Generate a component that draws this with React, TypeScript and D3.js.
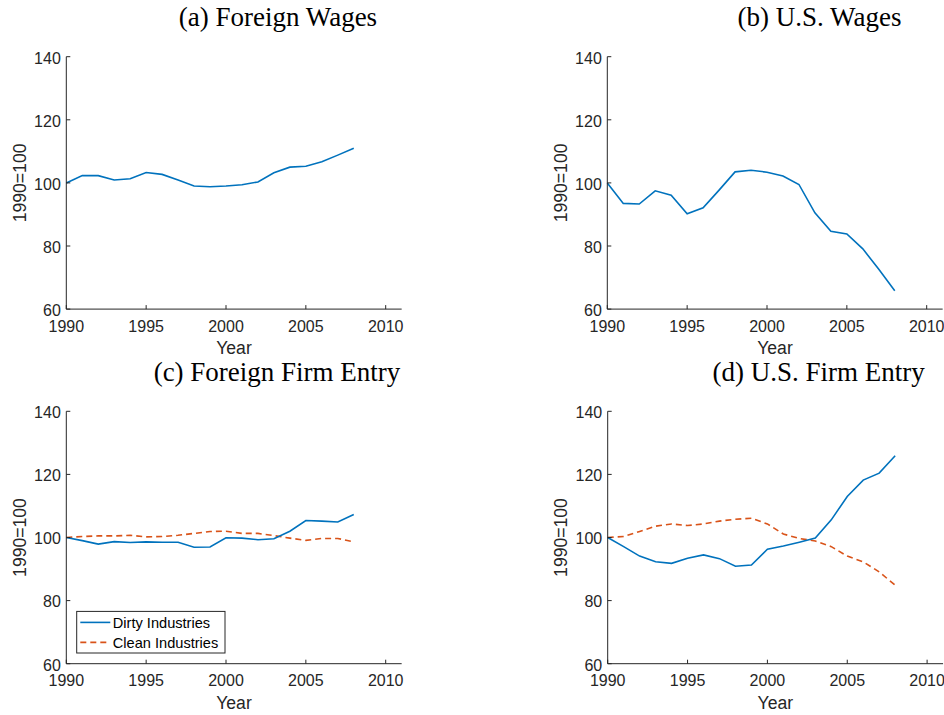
import * as d3 from "d3";

const years = d3.range(1990, 2009);
const xTicks = [1990, 1995, 2000, 2005, 2010];
const yTicks = [60, 80, 100, 120, 140];

const foreignWages = [100, 102.3, 102.3, 100.9, 101.3, 103.3, 102.7, 100.9, 99.0, 98.8, 99.0, 99.4, 100.3, 103.2, 105.0, 105.3, 106.7, 108.8, 111.0];
const usWages = [100, 93.5, 93.3, 97.5, 96.1, 90.2, 92.1, 97.7, 103.5, 104.0, 103.4, 102.2, 99.5, 90.5, 84.7, 83.8, 79.1, 72.6, 65.8];
const foreignDirty = [100, 99.0, 97.9, 98.7, 98.4, 98.6, 98.5, 98.5, 96.9, 97.0, 99.9, 99.8, 99.3, 99.6, 102.0, 105.4, 105.2, 104.9, 107.3];
const foreignClean = [100, 100.3, 100.5, 100.5, 100.7, 100.2, 100.3, 100.7, 101.3, 101.9, 102.0, 101.3, 101.3, 100.6, 99.8, 99.1, 99.7, 99.7, 98.6];
const usDirty = [100, 97.1, 94.1, 92.3, 91.8, 93.4, 94.5, 93.3, 90.9, 91.3, 96.3, 97.3, 98.5, 99.8, 105.6, 113.0, 118.2, 120.4, 125.9];
const usClean = [100, 100.3, 101.9, 103.6, 104.3, 103.8, 104.3, 105.2, 105.8, 106.1, 104.3, 101.1, 99.7, 98.9, 97.1, 94.1, 92.3, 89.1, 84.9];

const BLUE = "#0072BD";
const ORANGE = "#D95319";
const AXIS = "#262626";

const panels = [
  { title: "(a) Foreign Wages", titleX: 278, titleY: 26, x0: 66.3, y0: 56.7, series: [{ values: foreignWages, color: BLUE, dash: null }] },
  { title: "(b) U.S. Wages", titleX: 819.5, titleY: 26, x0: 607.3, y0: 56.7, series: [{ values: usWages, color: BLUE, dash: null }] },
  {
    title: "(c) Foreign Firm Entry", titleX: 277, titleY: 381, x0: 66.3, y0: 411.3, legend: true,
    series: [
      { values: foreignClean, color: ORANGE, dash: "6,4" },
      { values: foreignDirty, color: BLUE, dash: null },
    ],
  },
  {
    title: "(d) U.S. Firm Entry", titleX: 818.7, titleY: 381, x0: 607.7, y0: 411.3,
    series: [
      { values: usClean, color: ORANGE, dash: "6,4" },
      { values: usDirty, color: BLUE, dash: null },
    ],
  },
];

const legendItems = [
  { label: "Dirty Industries", color: BLUE, dash: null },
  { label: "Clean Industries", color: ORANGE, dash: "6,4" },
];

const PX_PER_YEAR = 15.97;
const PLOT_H = 252.4;
const SANS = "Liberation Sans, Arial, Helvetica, sans-serif";

function Panel({ p }) {
  const x = d3.scaleLinear().domain([1990, 2011]).range([p.x0, p.x0 + 21 * PX_PER_YEAR]);
  const y = d3.scaleLinear().domain([60, 140]).range([p.y0 + PLOT_H, p.y0]);
  const line = d3
    .line<number>()
    .x((_, i) => x(years[i]))
    .y((d) => y(d));
  const bottom = y(60);
  const left = x(1990);

  return (
    <g>
      <text x={p.titleX} y={p.titleY} textAnchor="middle" fontFamily="Liberation Serif, Times New Roman, serif" fontSize={27} fill="#000">
        {p.title}
      </text>
      {p.series.map((s, i) => (
        <path key={i} d={line(s.values)} fill="none" stroke={s.color} strokeWidth={1.6} strokeDasharray={s.dash || undefined} />
      ))}
      <line x1={left} x2={x(2011)} y1={bottom} y2={bottom} stroke={AXIS} strokeWidth={1} />
      <line x1={left} x2={left} y1={bottom} y2={y(140)} stroke={AXIS} strokeWidth={1} />
      {xTicks.map((t) => (
        <g key={t}>
          <line x1={x(t)} x2={x(t)} y1={bottom} y2={bottom - 4} stroke={AXIS} />
          <text x={x(t)} y={bottom + 22.7} textAnchor="middle" fontFamily={SANS} fontSize={16} fill={AXIS}>
            {t}
          </text>
        </g>
      ))}
      {yTicks.map((t) => (
        <g key={t}>
          <line x1={left} x2={left + 4} y1={y(t)} y2={y(t)} stroke={AXIS} />
          <text x={left - 5.5} y={y(t) + 6.8} textAnchor="end" fontFamily={SANS} fontSize={16} fill={AXIS}>
            {t}
          </text>
        </g>
      ))}
      <text x={(left + x(2011)) / 2} y={bottom + 45} textAnchor="middle" fontFamily={SANS} fontSize={17.6} fill={AXIS}>
        Year
      </text>
      <text
        transform={`translate(${left - 40.4},${(bottom + y(140)) / 2}) rotate(-90)`}
        textAnchor="middle"
        fontFamily={SANS}
        fontSize={17.6}
        fill={AXIS}
      >
        1990=100
      </text>
      {p.legend && (
        <g>
          <rect x={left + 10.4} y={bottom - 52.3} width={148.3} height={41.6} fill="#fff" stroke={AXIS} strokeWidth={1} />
          {legendItems.map((it, i) => {
            const cy = bottom - 41.3 + i * 20;
            return (
              <g key={it.label}>
                <line x1={left + 14} x2={left + 44} y1={cy} y2={cy} stroke={it.color} strokeWidth={1.6} strokeDasharray={it.dash || undefined} />
                <text x={left + 46.5} y={cy + 5.2} fontFamily={SANS} fontSize={14.6} fill="#000">
                  {it.label}
                </text>
              </g>
            );
          })}
        </g>
      )}
    </g>
  );
}

export default function App() {
  return (
    <svg width={944} height={715} style={{ position: "absolute", left: 0, top: 0, background: "#fff" }}>
      <rect width={944} height={715} fill="#fff" />
      {panels.map((p) => (
        <Panel key={p.title} p={p} />
      ))}
    </svg>
  );
}
